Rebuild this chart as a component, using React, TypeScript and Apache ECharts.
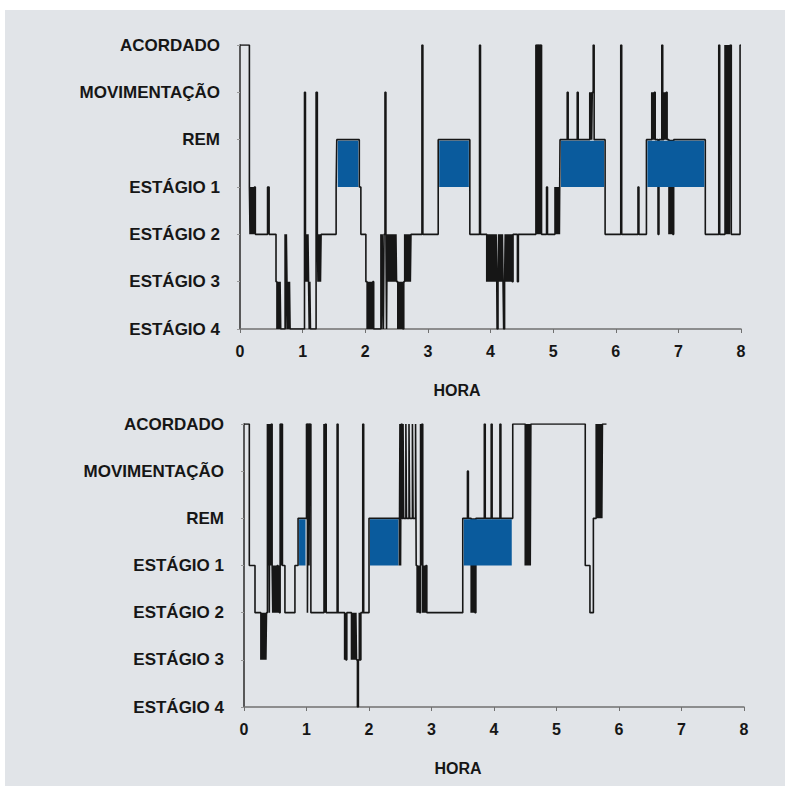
import React, { useEffect, useRef } from "react";
import * as echarts from "echarts";

// Stage codes: 0 = ESTÁGIO 4 ... 6 = ACORDADO
const STAGE_LABELS = ["ESTÁGIO 4", "ESTÁGIO 3", "ESTÁGIO 2", "ESTÁGIO 1", "REM", "MOVIMENTAÇÃO", "ACORDADO"];
const HOUR_MIN = 0;
const HOUR_MAX = 8;
const REM_LEVEL = 4;
const E1_LEVEL = 3;
const X_TITLE = "HORA";

// Night 1 (top): [hour, stage] change points
const night1: [number, number][] = [
  [0, 6],
  [0.15, 3],
  [0.16, 2], [0.17, 3], [0.18, 2], [0.19, 3], [0.2, 2], [0.21, 3], [0.22, 2], [0.23, 3],
  [0.245, 2],
  [0.44, 3], [0.465, 2],
  [0.575, 1],
  [0.59, 0], [0.6, 1], [0.61, 0], [0.62, 1], [0.63, 0], [0.64, 1], [0.65, 0],
  [0.72, 2], [0.73, 0], [0.74, 2], [0.75, 1], [0.76, 0], [0.77, 1], [0.78, 0], [0.79, 1], [0.8, 0],
  [1.03, 5], [1.045, 2], [1.055, 1], [1.065, 2], [1.075, 1], [1.085, 2], [1.095, 1], [1.105, 0], [1.115, 1], [1.125, 0],
  [1.215, 5], [1.235, 2], [1.245, 1], [1.255, 2], [1.265, 1], [1.275, 2], [1.285, 1], [1.295, 2],
  [1.535, 3], [1.545, 4],
  [1.905, 3], [1.93, 2],
  [2.01, 1], [2.03, 0], [2.04, 1], [2.05, 0], [2.06, 1], [2.07, 0], [2.08, 1], [2.09, 0], [2.1, 1], [2.11, 0], [2.12, 1], [2.135, 0],
  [2.25, 2], [2.26, 0], [2.27, 2], [2.28, 1], [2.29, 0], [2.3, 2], [2.315, 5], [2.33, 2], [2.34, 0], [2.35, 2], [2.36, 1], [2.37, 2],
  [2.38, 1], [2.39, 2], [2.4, 1], [2.41, 2], [2.42, 1], [2.43, 2], [2.44, 1], [2.45, 2], [2.46, 1], [2.47, 2], [2.48, 1], [2.49, 2], [2.5, 1],
  [2.52, 0], [2.53, 1], [2.54, 0], [2.55, 1], [2.56, 0], [2.57, 1], [2.58, 0], [2.59, 1], [2.6, 0], [2.615, 1],
  [2.63, 2], [2.64, 1], [2.65, 2], [2.66, 1], [2.67, 2], [2.68, 1], [2.69, 2], [2.7, 1], [2.71, 2], [2.72, 1],
  [2.73, 2],
  [2.905, 6], [2.92, 2],
  [3.165, 4],
  [3.67, 2],
  [3.825, 6], [3.84, 2],
  [3.94, 1], [3.95, 2], [3.96, 1], [3.97, 2], [3.98, 1], [3.99, 2], [4.0, 1], [4.01, 2], [4.02, 1], [4.03, 2], [4.04, 1], [4.05, 2],
  [4.06, 1], [4.07, 2], [4.08, 1], [4.09, 2], [4.1, 1], [4.105, 0], [4.12, 1], [4.13, 2], [4.14, 1], [4.15, 2], [4.16, 1], [4.17, 2],
  [4.18, 1], [4.19, 2], [4.2, 1], [4.21, 0], [4.225, 1], [4.235, 2], [4.245, 1], [4.255, 2], [4.265, 1], [4.275, 2], [4.285, 1],
  [4.295, 2], [4.305, 1], [4.315, 2], [4.325, 1], [4.335, 2], [4.345, 1], [4.36, 2],
  [4.43, 1], [4.445, 2],
  [4.725, 6], [4.74, 2], [4.75, 6], [4.765, 2], [4.775, 6], [4.79, 2], [4.8, 6], [4.815, 2],
  [4.895, 3], [4.91, 2],
  [5.03, 3], [5.04, 2], [5.05, 3], [5.06, 2], [5.07, 3], [5.08, 2], [5.09, 3], [5.1, 2],
  [5.11, 4], [5.225, 5], [5.24, 4], [5.385, 5], [5.4, 4], [5.585, 5], [5.595, 4], [5.605, 5], [5.615, 4], [5.625, 5], [5.64, 6], [5.655, 4],
  [5.83, 2],
  [6.08, 6], [6.095, 2],
  [6.355, 3], [6.37, 2],
  [6.49, 4],
  [6.575, 5], [6.585, 4], [6.595, 5], [6.605, 4], [6.615, 5], [6.63, 4],
  [6.675, 2], [6.69, 4],
  [6.735, 6], [6.75, 4],
  [6.765, 5], [6.775, 4], [6.785, 5], [6.795, 4], [6.805, 5], [6.82, 4],
  [6.85, 2], [6.86, 4], [6.87, 2], [6.88, 4], [6.89, 2], [6.9, 4], [6.91, 2], [6.925, 4],
  [7.43, 2],
  [7.645, 6], [7.66, 2],
  [7.745, 6], [7.755, 2], [7.765, 6], [7.775, 2], [7.785, 6], [7.795, 2], [7.805, 6], [7.815, 2], [7.825, 6], [7.845, 2],
  [7.985, 6], [8, 6],
];
const rem1: [number, number][] = [
  [1.545, 1.905],
  [3.165, 3.67],
  [5.11, 5.83],
  [6.49, 7.43],
];

// Night 2 (bottom)
const night2: [number, number][] = [
  [0, 6],
  [0.085, 3],
  [0.176, 2],
  [0.27, 1], [0.28, 2], [0.29, 1], [0.3, 2], [0.31, 1], [0.32, 2], [0.33, 1], [0.34, 2], [0.35, 1],
  [0.36, 2],
  [0.375, 6], [0.385, 3], [0.395, 6], [0.405, 2], [0.415, 6], [0.425, 3], [0.435, 6],
  [0.45, 3], [0.46, 2], [0.47, 3], [0.48, 2], [0.49, 3], [0.5, 2], [0.51, 3], [0.52, 2], [0.53, 3], [0.545, 2], [0.555, 3], [0.565, 2],
  [0.578, 6], [0.59, 3], [0.6, 6], [0.615, 3],
  [0.655, 2],
  [0.815, 3],
  [0.865, 4],
  [1.0, 6], [1.015, 2], [1.025, 6], [1.04, 3], [1.05, 6], [1.07, 2],
  [1.28, 6], [1.29, 2], [1.3, 6], [1.315, 2],
  [1.49, 6], [1.505, 2],
  [1.61, 1], [1.62, 2], [1.63, 1], [1.645, 2],
  [1.72, 1], [1.73, 2], [1.74, 1], [1.75, 2], [1.76, 1], [1.77, 2], [1.78, 1], [1.79, 2], [1.8, 1],
  [1.815, 0], [1.83, 1], [1.845, 2], [1.855, 1], [1.87, 2],
  [1.9, 6], [1.915, 2],
  [2.0, 4],
  [2.485, 3], [2.495, 6], [2.505, 3], [2.515, 6], [2.53, 4], [2.545, 6], [2.555, 4], [2.59, 6], [2.6, 4], [2.64, 6], [2.65, 4],
  [2.695, 6], [2.705, 4], [2.745, 6], [2.755, 3],
  [2.77, 2], [2.78, 3], [2.79, 2], [2.8, 3], [2.81, 2], [2.825, 6], [2.835, 3], [2.845, 6], [2.86, 2], [2.87, 3], [2.88, 2],
  [2.89, 3], [2.9, 2], [2.91, 3], [2.925, 2],
  [3.5, 4],
  [3.575, 5], [3.59, 4],
  [3.635, 2], [3.645, 4], [3.655, 2], [3.665, 4], [3.675, 2], [3.685, 4], [3.695, 2], [3.71, 4],
  [3.845, 6], [3.86, 4],
  [3.955, 6], [3.97, 4],
  [4.095, 6], [4.11, 4],
  [4.3, 6],
  [4.5, 3], [4.51, 6], [4.52, 3], [4.53, 6], [4.54, 3], [4.55, 6], [4.56, 3], [4.57, 6], [4.58, 3], [4.59, 6],
  [5.46, 3],
  [5.535, 2],
  [5.59, 4],
  [5.635, 6], [5.645, 4], [5.655, 6], [5.665, 4], [5.675, 6], [5.685, 4], [5.695, 6], [5.705, 4], [5.715, 6], [5.725, 4], [5.735, 6],
  [5.8, 6],
];
const rem2: [number, number][] = [
  [0.865, 1.0],
  [2.0, 2.485],
  [3.5, 4.3],
];

const BLUE = "#0a5b9d";
const INK = "#161616";
const FONT = "'Liberation Sans', Arial, sans-serif";

function xAxisFor(gridIndex: number) {
  return {
    gridIndex,
    type: "value",
    min: HOUR_MIN,
    max: HOUR_MAX,
    interval: 1,
    axisLine: { show: true, lineStyle: { color: "#707070", width: 1.5 } },
    axisTick: { show: true, length: 4, lineStyle: { color: "#707070" } },
    axisLabel: { fontSize: 16, fontWeight: "bold", color: INK, fontFamily: FONT, margin: 14 },
    splitLine: { show: false },
  };
}
function yAxisFor(gridIndex: number) {
  return {
    gridIndex,
    type: "value",
    min: 0,
    max: 6,
    interval: 1,
    axisLine: { show: true, lineStyle: { color: "#2a2a2a", width: 1.5 } },
    axisTick: { show: true, length: 3, lineStyle: { color: "#9a9a9a" } },
    axisLabel: {
      fontSize: 17,
      fontWeight: "bold",
      color: INK,
      fontFamily: FONT,
      margin: 20,
      formatter: (v: number) => STAGE_LABELS[Math.round(v)] ?? "",
    },
    splitLine: { show: false },
  };
}
function lineSeries(idx: number, data: [number, number][]) {
  return {
    type: "line",
    xAxisIndex: idx,
    yAxisIndex: idx,
    data,
    step: "end",
    symbol: "none",
    showSymbol: false,
    lineStyle: { color: INK, width: 1.6 },
    z: 2,
  };
}
function remSeries(idx: number, data: [number, number][]) {
  return {
    type: "custom",
    xAxisIndex: idx,
    yAxisIndex: idx,
    data,
    encode: { x: [0, 1] },
    clip: false,
    z: 5,
    renderItem: (_params: any, api: any) => {
      const tl = api.coord([api.value(0), REM_LEVEL]);
      const br = api.coord([api.value(1), E1_LEVEL]);
      return {
        type: "rect",
        shape: { x: tl[0] + 1, y: tl[1] + 1, width: br[0] - tl[0] - 2, height: br[1] - tl[1] - 1 },
        style: { fill: BLUE },
      };
    },
  };
}

export default function App() {
  const ref = useRef<HTMLDivElement>(null);
  useEffect(() => {
    if (!ref.current) return;
    const chart = echarts.init(ref.current, undefined, { renderer: "svg" });
    chart.setOption({
      animation: false,
      backgroundColor: "transparent",
      grid: [
        { left: 240, top: 45, width: 501, height: 284 },
        { left: 244, top: 424, width: 500, height: 283 },
      ],
      xAxis: [xAxisFor(0), xAxisFor(1)],
      yAxis: [yAxisFor(0), yAxisFor(1)],
      graphic: [
        {
          type: "text",
          x: 457,
          y: 390,
          style: { text: X_TITLE, fill: INK, font: `bold 16px ${FONT}`, textAlign: "center", textVerticalAlign: "middle" },
        },
        {
          type: "text",
          x: 458,
          y: 768,
          style: { text: X_TITLE, fill: INK, font: `bold 16px ${FONT}`, textAlign: "center", textVerticalAlign: "middle" },
        },
      ],
      series: [lineSeries(0, night1), remSeries(0, rem1), lineSeries(1, night2), remSeries(1, rem2)],
    });
    return () => chart.dispose();
  }, []);
  return (
    <div style={{ position: "fixed", left: 0, top: 0, width: 790, height: 789, background: "#fff" }}>
      <div style={{ position: "absolute", left: 5, top: 10, width: 780, height: 776, background: "#e1e4e8" }} />
      <div ref={ref} style={{ position: "absolute", left: 0, top: 0, width: 790, height: 789 }} />
    </div>
  );
}
